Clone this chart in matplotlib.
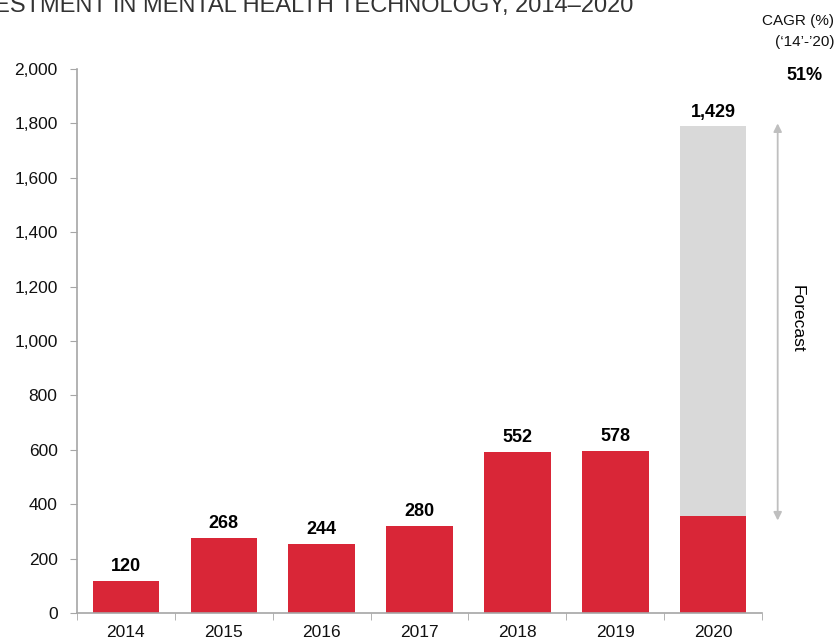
import matplotlib.pyplot as plt
import numpy as np

# Data
years = ['2014', '2015', '2016', '2017', '2018', '2019', '2020']
bar_heights = [118, 276, 254, 320, 592, 596, 357]   # red bars (as drawn)
forecast_total = 1790                                # grey bar top for 2020
value_labels = ['120', '268', '244', '280', '552', '578', '1,429']
yticks = [0, 200, 400, 600, 800, 1000, 1200, 1400, 1600, 1800, 2000]

red = '#D92637'
grey = '#D9D9D9'
axis_col = '#A6A6A6'
font = ['Liberation Sans', 'DejaVu Sans']

fig = plt.figure(figsize=(8.35, 6.43), dpi=100)
ax = fig.add_axes([0.0922, 0.0467, 0.8204, 0.846])

x = np.arange(len(years))
ax.bar(x[-1], forecast_total, width=0.68, color=grey, zorder=1)
ax.bar(x, bar_heights, width=0.68, color=red, zorder=2)

# value labels above bars
tops = bar_heights[:-1] + [forecast_total]
for xi, top, lab in zip(x, tops, value_labels):
    ax.annotate(lab, (xi, top), xytext=(0, 4), textcoords='offset points',
                ha='center', va='bottom', fontsize=13, fontweight='bold',
                family=font, color='black')

ax.set_xlim(-0.5, len(years) - 0.5)
ax.set_ylim(0, 2000)
ax.set_yticks(yticks)
ax.set_yticklabels([f'{v:,}' for v in yticks], family=font, fontsize=12.5,
                   color='#111111')
ax.set_xticks(x)
ax.set_xticklabels(years, family=font, fontsize=12.5, color='#111111')
ax.set_xticks(np.arange(len(years) + 1) - 0.5, minor=True)
ax.tick_params(axis='x', which='major', length=0, pad=9)
ax.tick_params(axis='x', which='minor', length=5, color=axis_col, direction='out')
ax.tick_params(axis='y', length=5, color=axis_col, pad=9)

for side in ['top', 'right']:
    ax.spines[side].set_visible(False)
for side in ['left', 'bottom']:
    ax.spines[side].set_color(axis_col)
    ax.spines[side].set_linewidth(1.2)

# Forecast arrow
ax.annotate('', xy=(6.66, 1800), xytext=(6.66, 340), annotation_clip=False,
            arrowprops=dict(arrowstyle='<|-|>', color='#BFBFBF', lw=1.3,
                            mutation_scale=12, shrinkA=0, shrinkB=0))
ax.text(6.86, 1080, 'Forecast', rotation=-90, ha='center', va='center',
        fontsize=12.5, family=font, color='black', clip_on=False)

# Title (runs off the top-left edge as in the source)
fig.text(0.758, 0.9813, 'INVESTMENT IN MENTAL HEALTH TECHNOLOGY, 2014\u20132020',
         ha='right', va='baseline', fontsize=17.0, family=font, color='#333333')

# CAGR annotation
fig.text(0.999, 0.967, 'CAGR (%)', ha='right', va='center', fontsize=11,
         family=font, color='#111111')
fig.text(0.999, 0.935, "(\u201814\u2019-\u201920)", ha='right', va='center',
         fontsize=11, family=font, color='#111111')
fig.text(0.963, 0.882, '51%', ha='center', va='center', fontsize=13,
         fontweight='bold', family=font)

fig.savefig('out.png', dpi=100)
